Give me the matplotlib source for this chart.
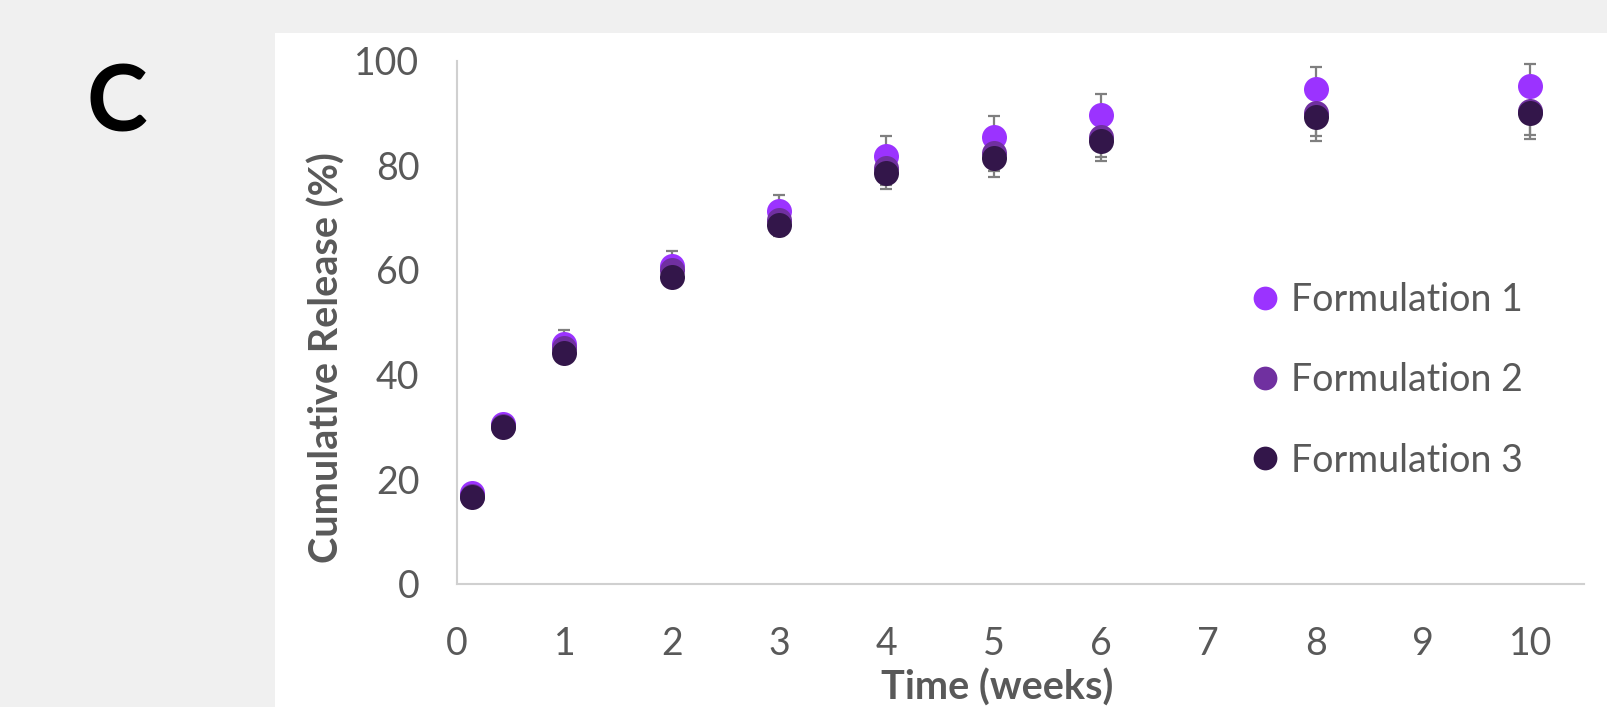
import numpy as np
import matplotlib
matplotlib.use("Agg")
import matplotlib.pyplot as plt
from matplotlib.patches import Rectangle

# time points (weeks): 1 day, 3 days, then weekly
weeks = [1/7, 3/7, 1, 2, 3, 4, 5, 6, 8, 10]

f1 = [17.3, 30.5, 45.8, 60.7, 71.2, 81.7, 85.4, 89.5, 94.5, 95.1]
f2 = [16.9, 30.1, 45.0, 60.0, 69.5, 79.5, 82.4, 85.4, 89.9, 90.3]
f3 = [16.7, 29.9, 44.2, 58.7, 68.6, 78.5, 81.4, 84.6, 89.3, 90.0]

f1_err = [1.0, 1.0, 2.7, 3.0, 3.2, 3.9, 4.0, 4.1, 4.3, 4.3]
f2_err = [1.0, 1.0, 2.0, 2.0, 2.5, 3.2, 3.5, 3.8, 4.4, 4.6]
f3_err = [1.0, 1.0, 1.5, 1.6, 2.1, 3.0, 3.6, 3.8, 4.6, 5.0]

labels = ["Formulation 1", "Formulation 2", "Formulation 3"]
colors = ["#9b33ff", "#7030a0", "#33164a"]

font = "Lato"
grey = "#595959"

fig = plt.figure(figsize=(16.08, 7.07), dpi=100)
fig.patch.set_facecolor("#f0f0f0")
fig.patches.append(Rectangle((275/1608, 0), 1, 1 - 33/707, transform=fig.transFigure,
                             facecolor="white", edgecolor="none", zorder=-10))

ax = fig.add_axes([457/1608, 1 - 584/707, (1584 - 457)/1608, (584 - 60.5)/707])
ax.set_facecolor("none")

series = [(f1, f1_err), (f2, f2_err), (f3, f3_err)]
for (vals, err) in series:
    ax.errorbar(weeks, vals, yerr=err, fmt="none", ecolor="#7f7f7f", elinewidth=1.6,
                capsize=4.5, capthick=1.6, zorder=1)
for i, ((vals, err), lab, c) in enumerate(zip(series, labels, colors)):
    ax.plot(weeks, vals, "o", color=c, markersize=18, markeredgewidth=0,
            label=lab, zorder=3 + i)

ax.set_xlim(0, 10.5)
ax.set_ylim(0, 100)
ax.set_xticks(range(0, 11))
ax.set_yticks(range(0, 101, 20))
ax.tick_params(length=0, labelsize=27, labelcolor=grey)
ax.tick_params(axis="y", pad=27)
ax.tick_params(axis="x", pad=30)
for t in ax.get_xticklabels() + ax.get_yticklabels():
    t.set_fontfamily(font)

for s in ["top", "right"]:
    ax.spines[s].set_visible(False)
for s in ["left", "bottom"]:
    ax.spines[s].set_color("#d0d0d0")
    ax.spines[s].set_linewidth(1.5)

fig.text(327/1608, 1 - 358/707, "Cumulative Release (%)", rotation=90, ha="center",
         va="center", fontsize=28.5, fontweight="bold", color=grey, family=font)
fig.text(997/1608, 1 - 688/707, "Time (weeks)", ha="center", va="center",
         fontsize=28.5, fontweight="bold", color=grey, family=font)
fig.text(117/1608, 1 - 105/707, "C", ha="center", va="center", fontsize=66,
         fontweight="bold", color="black", family=font)

leg = ax.legend(loc="upper left", bbox_to_anchor=((1246 - 457)/(1584 - 457), (584 - 282)/(584 - 60.5)),
                frameon=False, prop={"family": font, "size": 27}, labelcolor=grey,
                handletextpad=0.2, labelspacing=1.18, markerscale=0.95,
                handlelength=1.0, borderaxespad=0, borderpad=0)

fig.savefig("out.png", dpi=100, facecolor=fig.get_facecolor())
